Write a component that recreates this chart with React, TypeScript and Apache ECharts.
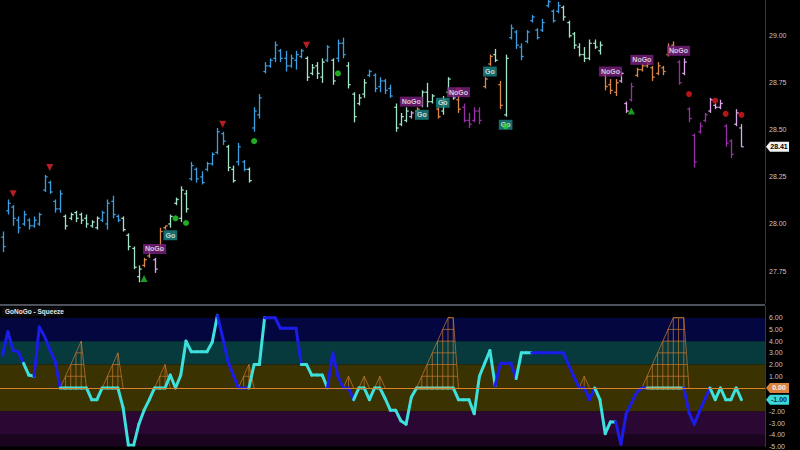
import { useEffect, useRef } from "react";
import * as echarts from "echarts";

// ---------- DATA ----------
const priceTicks = [27.75, 28.0, 28.25, 28.5, 28.75, 29.0];
const oscTicks = [-5, -4, -3, -2, -1, 0, 1, 2, 3, 4, 5, 6];

// [open, high, low, close]
const ohlc: [number, number, number, number][] = [
  [27.93, 27.96, 27.85, 27.88], [28.07, 28.13, 28.05, 28.11], [28.09, 28.10, 27.99, 28.03], [28.02, 28.04, 27.95, 27.98],
  [28.00, 28.07, 27.99, 28.05], [28.02, 28.03, 27.97, 27.99], [27.99, 28.04, 27.98, 28.02], [28.00, 28.06, 27.99, 28.05],
  [28.18, 28.26, 28.17, 28.25], [28.22, 28.23, 28.16, 28.17], [28.12, 28.13, 28.06, 28.08], [28.08, 28.18, 28.06, 28.16],
  [28.04, 28.05, 27.97, 27.99], [28.03, 28.06, 28.02, 28.05], [28.06, 28.07, 28.01, 28.03], [28.05, 28.06, 28.00, 28.02],
  [28.03, 28.05, 27.98, 28.00], [27.99, 28.02, 27.98, 28.01], [27.98, 28.04, 27.97, 28.03], [28.02, 28.07, 28.01, 28.06],
  [28.00, 28.13, 27.97, 28.11], [28.12, 28.15, 28.03, 28.05], [28.04, 28.05, 28.01, 28.02], [28.03, 28.04, 27.96, 27.97],
  [27.94, 27.95, 27.86, 27.88], [27.87, 27.88, 27.76, 27.77], [27.72, 27.78, 27.69, 27.76], [27.78, 27.82, 27.77, 27.81],
  [27.83, 27.89, 27.82, 27.87], [27.81, 27.82, 27.74, 27.76], [27.86, 27.98, 27.85, 27.96], [27.98, 27.99, 27.97, 27.99],
  [28.00, 28.05, 27.98, 28.04], [28.11, 28.14, 28.10, 28.13], [28.03, 28.20, 28.01, 28.18], [28.16, 28.18, 28.06, 28.08],
  [28.24, 28.33, 28.23, 28.31], [28.29, 28.30, 28.22, 28.24], [28.25, 28.28, 28.21, 28.22], [28.29, 28.33, 28.28, 28.32],
  [28.32, 28.38, 28.31, 28.37], [28.38, 28.51, 28.37, 28.49], [28.48, 28.49, 28.42, 28.44], [28.41, 28.42, 28.28, 28.30],
  [28.29, 28.31, 28.22, 28.23], [28.33, 28.43, 28.31, 28.41], [28.33, 28.34, 28.28, 28.29], [28.29, 28.30, 28.22, 28.23],
  [28.51, 28.62, 28.49, 28.60], [28.58, 28.69, 28.56, 28.67], [28.81, 28.86, 28.80, 28.84], [28.84, 28.88, 28.83, 28.87],
  [28.88, 28.97, 28.86, 28.95], [28.92, 28.93, 28.86, 28.88], [28.88, 28.92, 28.81, 28.84], [28.84, 28.90, 28.83, 28.88],
  [28.87, 28.92, 28.82, 28.90], [28.89, 28.93, 28.88, 28.92], [28.88, 28.89, 28.76, 28.78], [28.80, 28.85, 28.79, 28.83],
  [28.84, 28.86, 28.77, 28.80], [28.78, 28.88, 28.75, 28.86], [28.87, 28.95, 28.86, 28.94], [28.87, 28.88, 28.74, 28.76],
  [28.88, 28.98, 28.86, 28.96], [28.96, 28.99, 28.88, 28.90], [28.84, 28.86, 28.72, 28.74], [28.69, 28.70, 28.54, 28.57],
  [28.64, 28.69, 28.63, 28.67], [28.69, 28.77, 28.67, 28.75], [28.79, 28.82, 28.78, 28.81], [28.79, 28.80, 28.70, 28.72],
  [28.73, 28.78, 28.70, 28.76], [28.76, 28.77, 28.69, 28.71], [28.72, 28.74, 28.67, 28.68], [28.62, 28.64, 28.49, 28.51],
  [28.53, 28.59, 28.52, 28.57], [28.55, 28.62, 28.54, 28.60], [28.57, 28.60, 28.56, 28.59], [28.60, 28.62, 28.59, 28.61],
  [28.63, 28.71, 28.62, 28.70], [28.70, 28.75, 28.62, 28.65], [28.65, 28.69, 28.64, 28.68], [28.61, 28.62, 28.56, 28.57],
  [28.60, 28.68, 28.58, 28.66], [28.70, 28.78, 28.69, 28.77], [28.69, 28.70, 28.66, 28.67], [28.66, 28.68, 28.59, 28.61],
  [28.62, 28.64, 28.54, 28.55], [28.55, 28.59, 28.51, 28.53], [28.55, 28.62, 28.54, 28.60], [28.60, 28.62, 28.53, 28.55],
  [28.73, 28.78, 28.72, 28.77], [28.85, 28.90, 28.84, 28.89], [28.90, 28.93, 28.86, 28.87], [28.74, 28.76, 28.61, 28.63],
  [28.58, 28.90, 28.57, 28.88], [28.99, 29.06, 28.98, 29.04], [29.02, 29.03, 28.93, 28.95], [28.94, 28.96, 28.87, 28.89],
  [28.97, 29.03, 28.96, 29.02], [29.08, 29.11, 29.07, 29.10], [29.03, 29.04, 28.98, 28.99], [29.03, 29.09, 29.02, 29.07],
  [29.16, 29.19, 29.15, 29.18], [29.13, 29.14, 29.07, 29.08], [29.13, 29.18, 29.12, 29.16], [29.15, 29.16, 29.08, 29.10],
  [29.07, 29.08, 28.99, 29.00], [29.01, 29.02, 28.93, 28.95], [28.94, 28.96, 28.89, 28.90], [28.90, 28.94, 28.86, 28.88],
  [28.88, 28.98, 28.87, 28.96], [28.96, 28.98, 28.93, 28.94], [28.92, 28.97, 28.90, 28.95], [28.79, 28.80, 28.71, 28.73],
  [28.74, 28.77, 28.69, 28.71], [28.70, 28.77, 28.68, 28.75], [28.76, 28.81, 28.75, 28.80], [28.64, 28.65, 28.59, 28.60],
  [28.66, 28.75, 28.65, 28.73], [28.79, 28.83, 28.78, 28.82], [28.82, 28.85, 28.81, 28.84], [28.84, 28.86, 28.83, 28.85],
  [28.83, 28.84, 28.76, 28.78], [28.80, 28.86, 28.79, 28.84], [28.83, 28.84, 28.79, 28.81], [28.90, 28.96, 28.89, 28.94],
  [28.95, 28.97, 28.90, 28.91], [28.86, 28.87, 28.74, 28.75], [28.80, 28.88, 28.79, 28.86], [28.61, 28.62, 28.54, 28.56],
  [28.47, 28.48, 28.30, 28.33], [28.49, 28.54, 28.48, 28.52], [28.55, 28.59, 28.54, 28.58], [28.60, 28.67, 28.59, 28.66],
  [28.63, 28.64, 28.61, 28.62], [28.62, 28.66, 28.61, 28.64], [28.52, 28.53, 28.41, 28.43], [28.44, 28.45, 28.35, 28.37],
  [28.53, 28.61, 28.52, 28.59], [28.51, 28.53, 28.41, 28.41],
];

// B strong go, L weak go, O weak nogo, P strong nogo, K nogo fading
const barTrend = (
  "BBBBBBBBBBBB LLLLLLL BBBB LLLL OO K OO LLLL BBBBBBB LL BB L BBBBBBBBBB LLLL B L BB LLLL BBBBB LLL K O LLL O LLL O PPPP OO L O L BBBBBBBBBB LLLLLLLL OOO KK P OOOOOOOO P K PPPP KKK PP KK"
).replace(/\s/g, "").split("");

const oscValues = [
  2.8, 4.8, 3.2, 3.1, 2.1, 1.1, 1.0, 5.2, 4.4, 3.3,
  2.3, 0, 0, 0, 0, 0, 0, -1, -1, 0,
  0, 0, 0, -1.7, -4.9, -4.9, -3.1, -1.9, -1.0, 0,
  0, 0, 1.1, 0, 1.1, 4.0, 3.1, 3.1, 3.1, 3.1,
  3.9, 6.2, 4.3, 2.3, 1.1, 0, 0, 0, 2.0, 2.0,
  6.0, 6.0, 6.0, 5.1, 5.1, 5.1, 5.1, 2.0, 2.0, 1.1,
  1.1, 1.1, 0, 3.0, 1.0, 0, 0, -1, 0, 0,
  -1, 0, 0, -0.9, -1.9, -1.9, -2.8, -3.1, -0.8, 0,
  0, 0, 0, 0, 0, 0, 0, -1, -1, -1,
  -2.2, 1.0, 2.1, 3.2, 0.2, 2.1, 2.1, 2.1, 0.8, 3.0,
  3.0, 3.0, 3.0, 3.0, 3.0, 3.0, 3.0, 3.0, 2.0, 1.0,
  0, 0, -1, 0, -1, -3.9, -2.9, -2.9, -4.8, -2.2,
  -1.3, -0.4, 0, 0, 0, 0, 0, 0, 0, 0,
  0, -2.1, -3.1, -2.0, -1.0, 0, -1, 0, -1, -1,
  0, -1,
];

// B blue, C cyan, M mint
const oscTrend = (
  "BBBBB CC BBBBB CCCCCCCCCCCCCCCCCCCCCCCCCCCCCC BBBBBB CCC BBBBBBB CCCCC BBBBB CCCCCCCCCCCC MMMMMMM CCCCCCCC BBBB CCC BBBBBBBBBBBB CCCC BBBBBB MMMMMMM BBBBB CCCCCC"
).replace(/\s/g, "").split("");

const squeeze = [
  0, 0, 0, 0, 0, 0, 0, 0, 0, 0,
  0, 0, 1, 2, 3, 4, 0, 0, 0, 0,
  1, 2, 3, 0, 0, 0, 0, 0, 0, 0,
  1, 2, 0, 0, 0, 0, 0, 0, 0, 0,
  0, 0, 0, 0, 0, 0, 1, 2, 0, 0,
  0, 0, 0, 0, 0, 0, 0, 0, 0, 0,
  0, 0, 0, 0, 0, 0, 1, 0, 0, 1,
  0, 0, 1, 0, 0, 0, 0, 0, 0, 0,
  1, 2, 3, 4, 5, 6, 6, 0, 0, 0,
  0, 0, 0, 0, 0, 0, 0, 0, 0, 0,
  0, 0, 0, 0, 0, 0, 0, 0, 0, 0,
  0, 1, 0, 0, 0, 0, 0, 0, 0, 0,
  0, 0, 0, 1, 2, 3, 4, 5, 6, 6,
  6, 0, 0, 0, 0, 0, 0, 0, 0, 0,
  0, 0,
];

// [bar index, price]
const redTriangles: [number, number][] = [[2, 28.16], [9, 28.30], [42, 28.53], [58, 28.95]];
const greenTriangles: [number, number][] = [[27, 27.71], [120, 28.60]];
const greenDots: [number, number][] = [[33, 28.03], [35, 28.005], [48, 28.44], [64, 28.80], [96, 28.52]];
const redDots: [number, number][] = [[87, 28.71], [131, 28.69], [136, 28.655], [138, 28.585], [141, 28.58]];

const signalLabels: { idx: number; price: number; text: string }[] = [
  { idx: 29, price: 27.867, text: "NoGo" },
  { idx: 32, price: 27.94, text: "Go" },
  { idx: 78, price: 28.65, text: "NoGo" },
  { idx: 80, price: 28.58, text: "Go" },
  { idx: 84, price: 28.644, text: "Go" },
  { idx: 87, price: 28.70, text: "NoGo" },
  { idx: 93, price: 28.81, text: "Go" },
  { idx: 96, price: 28.527, text: "Go" },
  { idx: 116, price: 28.81, text: "NoGo" },
  { idx: 122, price: 28.872, text: "NoGo" },
  { idx: 129, price: 28.92, text: "NoGo" },
];

const bands = [
  { from: 4, to: 6, color: "#04073f" },
  { from: 2, to: 4, color: "#063a3c" },
  { from: -2, to: 2, color: "#3a3200" },
  { from: -4, to: -2, color: "#2a0833" },
  { from: -6, to: -4, color: "#1a0420" },
];

const categories = Array.from({ length: ohlc.length + 4 }, (_, i) => String(i));

// ---------- STYLES ----------
const FONT = "'Liberation Sans', Arial, sans-serif";
const trendColors: Record<string, string> = {
  B: "#3b9ee2",
  L: "#a4e4c6",
  O: "#dc8848",
  P: "#9a30aa",
  K: "#dea6ea",
};
const oscColors: Record<string, string> = { B: "#1c1ce8", C: "#3ee0dc", M: "#78c8a8" };
const SQUEEZE_COLOR = "#c97a34";

const lastClose = ohlc[ohlc.length - 1][3];
const lastSqueeze = squeeze[squeeze.length - 1];
const lastOsc = oscValues[oscValues.length - 1];
// axis labels hidden behind the value tags
const visibleOscTicks = oscTicks.filter(
  (v) => Math.abs(v - lastSqueeze) > 0.5 && Math.abs(v - lastOsc) > 0.5
);

function buildOption(): any {
  return {
    backgroundColor: "#000",
    animation: false,
    grid: [
      { left: -2, right: 35, top: 0, height: 303 },
      { left: -2, right: 35, top: 306, height: 144 },
    ],
    xAxis: [
      { type: "category", gridIndex: 0, data: categories, show: false, boundaryGap: true },
      { type: "category", gridIndex: 1, data: categories, show: false, boundaryGap: true },
    ],
    yAxis: [
      {
        type: "value",
        gridIndex: 0,
        position: "right",
        min: 27.58,
        max: 29.19,
        splitLine: { show: false },
        axisTick: { show: false },
        axisLine: { show: true, lineStyle: { color: "#383838", width: 1 } },
        axisLabel: {
          customValues: priceTicks,
          formatter: (v: number) => v.toFixed(2),
          color: "#c4c4c4",
          fontSize: 7,
          fontFamily: FONT,
          margin: 4,
        },
      },
      {
        type: "value",
        gridIndex: 1,
        position: "right",
        min: -5,
        max: 7,
        splitLine: { show: false },
        axisTick: { show: false },
        axisLine: { show: true, lineStyle: { color: "#383838", width: 1 } },
        axisLabel: {
          customValues: visibleOscTicks,
          formatter: (v: number) => v.toFixed(2),
          color: "#c4c4c4",
          fontSize: 7,
          fontFamily: FONT,
          margin: 4,
        },
      },
    ],
    series: [
      {
        type: "custom",
        name: "price",
        xAxisIndex: 0,
        yAxisIndex: 0,
        clip: true,
        encode: { x: 0, y: [1, 2, 3, 4] },
        data: ohlc.map((d, i) => [i, d[0], d[1], d[2], d[3]]),
        renderItem: (params: any, api: any) => {
          const i = api.value(0);
          const pO = api.coord([i, api.value(1)]);
          const pH = api.coord([i, api.value(2)]);
          const pL = api.coord([i, api.value(3)]);
          const pC = api.coord([i, api.value(4)]);
          const x = Math.round(pH[0]) + 0.5;
          const color = trendColors[barTrend[params.dataIndex]] || "#3b9ee2";
          const style = { stroke: color, lineWidth: 1.3 };
          const t = 2.2;
          return {
            type: "group",
            children: [
              { type: "line", shape: { x1: x, y1: pH[1], x2: x, y2: pL[1] }, style },
              { type: "line", shape: { x1: x - t, y1: pO[1], x2: x, y2: pO[1] }, style },
              { type: "line", shape: { x1: x, y1: pC[1], x2: x + t, y2: pC[1] }, style },
            ],
          };
        },
        z: 2,
      },
      {
        type: "scatter",
        xAxisIndex: 0,
        yAxisIndex: 0,
        symbol: "triangle",
        symbolRotate: 180,
        symbolSize: 7,
        itemStyle: { color: "#e2262a" },
        data: redTriangles,
        z: 3,
      },
      {
        type: "scatter",
        xAxisIndex: 0,
        yAxisIndex: 0,
        symbol: "triangle",
        symbolSize: 7,
        itemStyle: { color: "#22c42a" },
        data: greenTriangles,
        z: 3,
      },
      {
        type: "scatter",
        xAxisIndex: 0,
        yAxisIndex: 0,
        symbol: "circle",
        symbolSize: 6,
        itemStyle: { color: "#e01c1c" },
        data: redDots,
        z: 3,
      },
      {
        type: "scatter",
        xAxisIndex: 0,
        yAxisIndex: 0,
        symbolSize: 1,
        itemStyle: { color: "transparent" },
        data: signalLabels.map((s) => ({
          value: [s.idx, s.price],
          label: { backgroundColor: s.text === "Go" ? "#1c8886" : "#7c2282" },
        })),
        label: {
          show: true,
          position: "inside",
          formatter: (p: any) => signalLabels[p.dataIndex].text,
          color: "#f4f4f4",
          fontSize: 7,
          fontWeight: "bold",
          fontFamily: FONT,
          padding: [2, 2, 1, 2],
        },
        z: 4,
      },
      {
        type: "scatter",
        xAxisIndex: 0,
        yAxisIndex: 0,
        symbol: "circle",
        symbolSize: 6,
        itemStyle: { color: "#2ad42c" },
        data: greenDots,
        z: 5,
      },
      // background bands + zero line
      {
        type: "line",
        xAxisIndex: 1,
        yAxisIndex: 1,
        data: oscValues,
        symbol: "none",
        silent: true,
        lineStyle: { opacity: 0 },
        z: 0,
        markArea: {
          silent: true,
          data: bands.map((b) => [
            { yAxis: b.from, itemStyle: { color: b.color } },
            { yAxis: b.to },
          ]),
        },
        markLine: {
          silent: true,
          symbol: "none",
          label: { show: false },
          lineStyle: { color: "#d8812f", width: 1, type: "solid" },
          data: [{ yAxis: 0 }],
        },
      },
      // squeeze mesh
      {
        type: "custom",
        xAxisIndex: 1,
        yAxisIndex: 1,
        clip: true,
        encode: { x: 0, y: 1 },
        data: squeeze.map((v, i) => [i, v]),
        renderItem: (params: any, api: any) => {
          const i = params.dataIndex;
          const a = squeeze[i];
          const b = i + 1 < squeeze.length ? squeeze[i + 1] : 0;
          const children: any[] = [];
          const style = { stroke: SQUEEZE_COLOR, lineWidth: 0.7 };
          const p0 = api.coord([i, 0]);
          const pa = api.coord([i, a]);
          const pb = api.coord([i + 1, b]);
          const xa = pa[0];
          const xb = pb[0];
          if (a > 0) {
            children.push({ type: "line", shape: { x1: xa, y1: p0[1], x2: xa, y2: pa[1] }, style });
          }
          if (a > 0 || b > 0) {
            children.push({ type: "line", shape: { x1: xa, y1: pa[1], x2: xb, y2: pb[1] }, style });
            const top = Math.max(a, b);
            for (let k = 1; k <= top; k++) {
              const yk = api.coord([i, k])[1];
              if (a >= k && b >= k) {
                children.push({ type: "line", shape: { x1: xa, y1: yk, x2: xb, y2: yk }, style });
              } else if (a >= k) {
                const t = (a - k) / (a - b);
                children.push({ type: "line", shape: { x1: xa, y1: yk, x2: xa + t * (xb - xa), y2: yk }, style });
              } else if (b >= k) {
                const t = (k - a) / (b - a);
                children.push({ type: "line", shape: { x1: xa + t * (xb - xa), y1: yk, x2: xb, y2: yk }, style });
              }
            }
          }
          return { type: "group", children };
        },
        z: 2,
      },
      // oscillator
      {
        type: "custom",
        xAxisIndex: 1,
        yAxisIndex: 1,
        clip: true,
        encode: { x: 0, y: 1 },
        data: oscValues.map((v, i) => [i, v]),
        renderItem: (params: any, api: any) => {
          const i = params.dataIndex;
          if (i === 0) return { type: "group", children: [] };
          const p1 = api.coord([i - 1, oscValues[i - 1]]);
          const p2 = api.coord([i, oscValues[i]]);
          return {
            type: "line",
            shape: { x1: p1[0], y1: p1[1], x2: p2[0], y2: p2[1] },
            style: { stroke: oscColors[oscTrend[i]] || "#3ee0dc", lineWidth: 3, lineCap: "round" },
          };
        },
        z: 3,
      },
    ],
  };
}

function tag(y: number, text: string, bg: string, fg: string): any {
  return {
    type: "group",
    children: [
      {
        type: "polygon",
        shape: { points: [[766, y], [770, y - 5], [789, y - 5], [789, y + 5], [770, y + 5]] },
        style: { fill: bg },
      },
      {
        type: "text",
        x: 779,
        y: y,
        style: {
          text,
          fill: fg,
          font: `bold 7px ${FONT}`,
          align: "center",
          verticalAlign: "middle",
          textAlign: "center",
          textVerticalAlign: "middle",
        },
      },
    ],
  };
}

export default function App() {
  const ref = useRef<HTMLDivElement>(null);
  useEffect(() => {
    document.body.style.margin = "0";
    document.body.style.background = "#000";
    const chart = echarts.init(ref.current as HTMLDivElement, null, { renderer: "svg" });
    chart.setOption(buildOption());
    const yClose = chart.convertToPixel({ yAxisIndex: 0 } as any, lastClose) as number;
    const ySq = chart.convertToPixel({ yAxisIndex: 1 } as any, lastSqueeze) as number;
    const yOsc = chart.convertToPixel({ yAxisIndex: 1 } as any, lastOsc) as number;
    chart.setOption({
      graphic: [
        { type: "line", shape: { x1: 0, y1: 305, x2: 765, y2: 305 }, style: { stroke: "#4c515c", lineWidth: 2 } },
        { type: "rect", shape: { x: 2, y: 307, width: 60, height: 9 }, style: { fill: "#0c0c10" } },
        {
          type: "text",
          x: 5,
          y: 311.5,
          style: {
            text: "GoNoGo - Squeeze",
            fill: "#e6e6e6",
            font: `bold 6.5px ${FONT}`,
            verticalAlign: "middle",
            textVerticalAlign: "middle",
          },
        },
        tag(yClose, lastClose.toFixed(2), "#f2f2f2", "#000"),
        tag(ySq, lastSqueeze.toFixed(2), "#d8843e", "#fff2e0"),
        tag(yOsc, lastOsc.toFixed(2), "#3ad8d8", "#0a3440"),
      ],
    });
    return () => chart.dispose();
  }, []);
  return <div ref={ref} style={{ width: 800, height: 450 }} />;
}
